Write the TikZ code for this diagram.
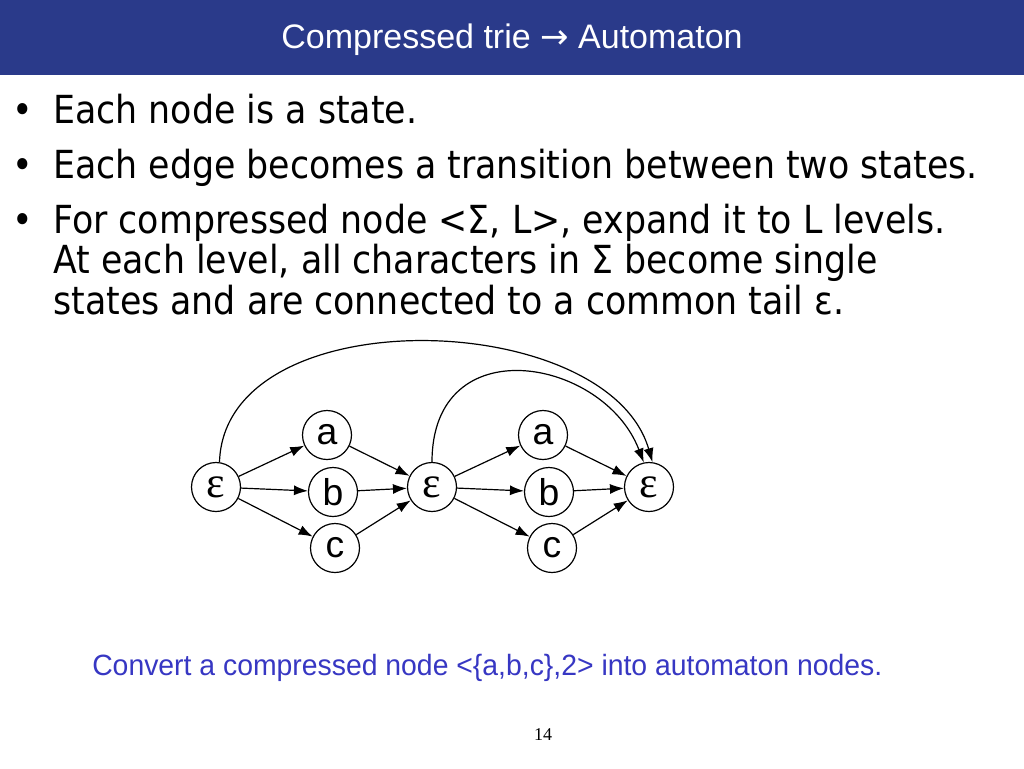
\documentclass[tikz,border=0pt]{standalone}
\usepackage{fontspec}
\usetikzlibrary{arrows.meta}
\setmainfont{Liberation Sans}
\newfontfamily\bodyfont[FakeStretch=0.9]{DejaVu Sans}
\newfontfamily\captionfont[FakeStretch=0.967]{Liberation Sans}
\newfontfamily\arrowfont{DejaVu Sans}
\newfontfamily\seriffont{Liberation Serif}
\definecolor{band}{RGB}{42,58,138}
\definecolor{capblue}{RGB}{55,55,195}
\tikzset{
  state/.style={circle,draw=black,line width=0.9pt,fill=white,minimum size=36.75pt,inner sep=0pt,font=\fontsize{28}{30}\selectfont},
  epsstate/.style={state,font=\seriffont\fontsize{33}{34}\selectfont},
  arr/.style={-{Latex[length=10.5pt,width=7.5pt]},line width=0.9pt,black},
  bodytext/.style={anchor=base west,inner sep=0pt,font=\bodyfont\fontsize{29}{30}\selectfont},
  bulletmark/.style={anchor=base,inner sep=0pt,font=\bodyfont\fontsize{29}{30}\selectfont}
}
\begin{document}
\begin{tikzpicture}[x=0.75pt,y=-0.75pt]
\useasboundingbox (0,0) rectangle (1024,768);
\fill[white] (0,0) rectangle (1024,768);
\fill[band] (0,0) rectangle (1024,75);
\node[text=white,font=\fontsize{25.5}{27}\selectfont] (title) at (512,40) {Compressed trie {\arrowfont →} Automaton};

\node[bulletmark] (b1) at (23,123) {•};
\node[bodytext] (t1) at (53,123) {Each node is a state.};
\node[bulletmark] (b2) at (23,178) {•};
\node[bodytext] (t2) at (53,178) {Each edge becomes a transition between two states.};
\node[bulletmark] (b3) at (23,233) {•};
\node[bodytext] (t3a) at (53,233) {For compressed node <Σ, L>, expand it to L levels.};
\node[bodytext] (t3b) at (53,273.5) {At each level, all characters in Σ become single};
\node[bodytext] (t3c) at (53,314) {states and are connected to a common tail ε.};

\node[epsstate] (e1) at (216,487) {ε};
\node[state] (a1) at (327,435) {a};
\node[state] (bb1) at (333,492) {b};
\node[state] (c1) at (335,548) {c};
\node[epsstate] (e2) at (432,487) {ε};
\node[state] (a2) at (543,435) {a};
\node[state] (bb2) at (549,492) {b};
\node[state] (c2) at (552,548) {c};
\node[epsstate] (e3) at (649,487) {ε};

\draw[arr] (e1) -- (a1);
\draw[arr] (e1) -- (bb1);
\draw[arr] (e1) -- (c1);
\draw[arr] (a1) -- (e2);
\draw[arr] (bb1) -- (e2);
\draw[arr] (c1) -- (e2);
\draw[arr] (e2) -- (a2);
\draw[arr] (e2) -- (bb2);
\draw[arr] (e2) -- (c2);
\draw[arr] (a2) -- (e3);
\draw[arr] (bb2) -- (e3);
\draw[arr] (c2) -- (e3);

\draw[arr] (e1.82) .. controls +(5,-165) and +(-45,-155) .. (e3.82);
\draw[arr] (e2.north) .. controls +(0,-135) and +(-40,-105) .. (e3.102);

\node[anchor=base west,inner sep=0pt,text=capblue,font=\captionfont\fontsize{22}{24}\selectfont] (cap) at (92,675) {Convert a compressed node <\{a,b,c\},2> into automaton nodes.};
\node[font=\seriffont\fontsize{13.5}{15}\selectfont] (page) at (543,735) {14};
\end{tikzpicture}
\end{document}
